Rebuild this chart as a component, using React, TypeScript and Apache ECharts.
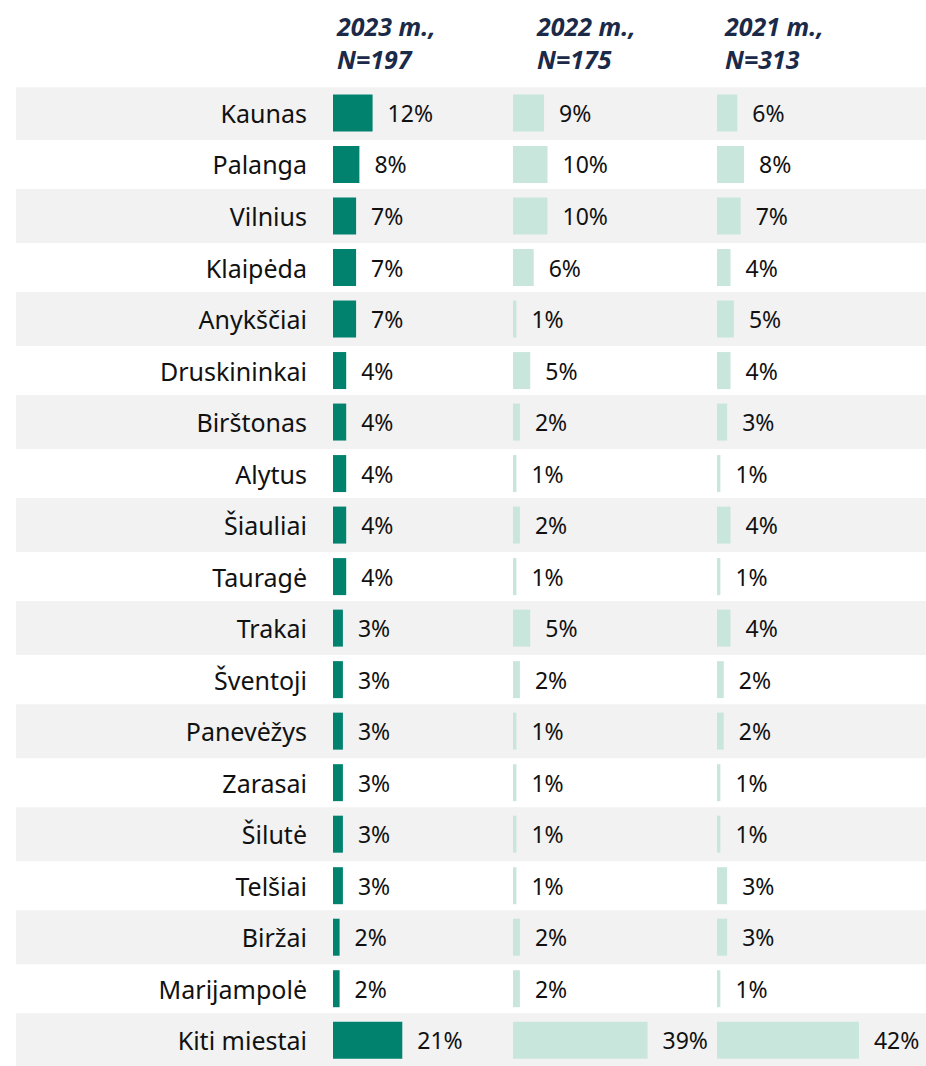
import React, { useEffect, useRef } from "react";
import * as echarts from "echarts";

const categories = [
  "Kaunas", "Palanga", "Vilnius", "Klaipėda", "Anykščiai", "Druskininkai",
  "Birštonas", "Alytus", "Šiauliai", "Tauragė", "Trakai", "Šventoji",
  "Panevėžys", "Zarasai", "Šilutė", "Telšiai", "Biržai", "Marijampolė", "Kiti miestai",
];
const values2023 = [12, 8, 7, 7, 7, 4, 4, 4, 4, 4, 3, 3, 3, 3, 3, 3, 2, 2, 21];
const values2022 = [9, 10, 10, 6, 1, 5, 2, 1, 2, 1, 5, 2, 1, 1, 1, 1, 2, 2, 39];
const values2021 = [6, 8, 7, 4, 5, 4, 3, 1, 4, 1, 4, 2, 2, 1, 1, 3, 3, 1, 42];
const headerYears = ["2023 m.,", "2022 m.,", "2021 m.,"];
const headerNs = ["N=197", "N=175", "N=313"];

const FONT = '"Noto Sans", "Open Sans", sans-serif';
const DARK = "#00826F";
const LIGHT = "#C9E6DD";
const BAND = "#F2F2F2";
const NAVY = "#1B2A48";

export default function App() {
  const ref = useRef<HTMLDivElement>(null);
  useEffect(() => {
    if (!ref.current) return;
    const chart = echarts.init(ref.current, undefined, { renderer: "svg" });
    const top = 87.2;
    const height = 51.67 * categories.length;
    const cols = [
      { left: 333, width: 180, max: 180 / 3.3, data: values2023, color: DARK, hx: 337 },
      { left: 513, width: 204, max: 204 / 3.45, data: values2022, color: LIGHT, hx: 537 },
      { left: 717, width: 209, max: 209 / 3.38, data: values2021, color: LIGHT, hx: 725 },
    ];
    const grids: any[] = [{ left: 16, right: 0, top, height }];
    const xAxes: any[] = [{ gridIndex: 0, type: "value", min: 0, max: 1, show: false }];
    const yAxes: any[] = [
      { gridIndex: 0, type: "category", data: categories, inverse: true, show: false },
    ];
    const series: any[] = [
      {
        type: "bar",
        xAxisIndex: 0,
        yAxisIndex: 0,
        data: categories.map((_, i) => (i % 2 === 0 ? 1 : "-")),
        barWidth: 54,
        itemStyle: { color: BAND },
        silent: true,
        z: 1,
      },
    ];
    cols.forEach((c, k) => {
      const gi = k + 1;
      grids.push({ left: c.left, width: c.width, top, height });
      xAxes.push({ gridIndex: gi, type: "value", min: 0, max: c.max, show: false });
      yAxes.push({
        gridIndex: gi,
        type: "category",
        data: categories,
        inverse: true,
        z: 5,
        axisLine: { show: false },
        axisTick: { show: false },
        splitLine: { show: false },
        axisLabel: {
          show: k === 0,
          interval: 0,
          margin: 26,
          fontFamily: FONT,
          fontSize: 25,
          color: "#111",
        },
      });
      series.push({
        type: "bar",
        xAxisIndex: gi,
        yAxisIndex: gi,
        data: c.data,
        barWidth: 37,
        itemStyle: { color: c.color },
        z: 2,
        label: {
          show: true,
          position: "right",
          distance: 15,
          formatter: "{c}%",
          fontFamily: FONT,
          fontSize: 23,
          color: "#111",
        },
      });
    });
    const graphic = cols.map((c, k) => ({
      type: "text",
      left: c.hx,
      top: 9,
      style: {
        text: headerYears[k] + "\n" + headerNs[k],
        font: `italic bold 25px ${FONT}`,
        fill: NAVY,
        lineHeight: 33,
      },
    }));
    chart.setOption({
      animation: false,
      backgroundColor: "#fff",
      grid: grids,
      xAxis: xAxes,
      yAxis: yAxes,
      series,
      graphic,
    });
    return () => chart.dispose();
  }, []);
  return (
    <div
      ref={ref}
      style={{ position: "absolute", left: 0, top: 0, width: 926, height: 1066 }}
    />
  );
}
